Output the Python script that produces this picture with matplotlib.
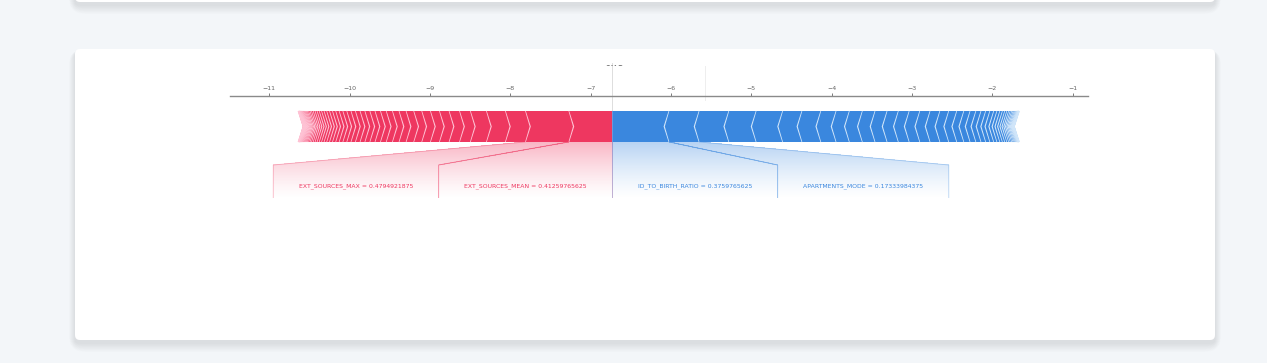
import numpy as np
import matplotlib
matplotlib.use('Agg')
import matplotlib.pyplot as plt
from matplotlib.patches import Polygon, FancyBboxPatch
from matplotlib.transforms import Bbox

# shap force plot values
base_value = -5.575

# features pushing the prediction higher (largest first)
pos_effects = [0.545, 0.540, 0.250, 0.236, 0.200, 0.135, 0.130, 0.120, 0.112, 0.108,
               0.100, 0.095, 0.088, 0.082, 0.077, 0.072, 0.068, 0.064, 0.062, 0.060,
               0.058, 0.055, 0.052, 0.049, 0.046, 0.043, 0.040, 0.037, 0.035, 0.033,
               0.031, 0.029, 0.027, 0.025, 0.023, 0.021, 0.019, 0.017, 0.015, 0.013,
               0.012, 0.011, 0.010, 0.009, 0.008, 0.007, 0.006, 0.005, 0.005, 0.004,
               0.004, 0.003, 0.003, 0.002, 0.002, 0.002, 0.001, 0.001]
pos_labels = ['EXT_SOURCES_MEAN = 0.41259765625', 'EXT_SOURCES_MAX = 0.4794921875']

# features pushing the prediction lower (largest first)
neg_effects = [0.710, 0.375, 0.370, 0.340, 0.330, 0.240, 0.235, 0.190, 0.165, 0.162,
               0.158, 0.150, 0.140, 0.135, 0.132, 0.128, 0.122, 0.110, 0.100, 0.088,
               0.078, 0.072, 0.064, 0.058, 0.052, 0.048, 0.040, 0.036, 0.032, 0.029,
               0.026, 0.023, 0.020, 0.018, 0.016, 0.014, 0.012, 0.010, 0.008, 0.006,
               0.005, 0.004, 0.003, 0.003, 0.002, 0.002, 0.001, 0.001]
neg_labels = ['ID_TO_BIRTH_RATIO = 0.3759765625', 'APARTMENTS_MODE = 0.17333984375']

x_ticks = [-11, -10, -9, -8, -7, -6, -5, -4, -3, -2, -1]

out_value = base_value + sum(pos_effects) - sum(neg_effects)

RED = '#EE3760'
RED_SEP = '#FFC3D5'
BLUE = '#3A87DE'
BLUE_SEP = '#D1E6FA'

W, H = 1267, 363
fig = plt.figure(figsize=(W / 100, H / 100), dpi=100)
fig.patch.set_facecolor('#f3f6f9')

# page background with cards
bg = fig.add_axes([0, 0, 1, 1])
bg.set_xlim(0, W)
bg.set_ylim(H, 0)
bg.axis('off')
for (cx, cy, cw, ch) in [(75, -200, 1140, 202), (75, 49, 1140, 291)]:
    for i in range(12, 0, -1):
        bg.add_patch(FancyBboxPatch((cx - i * 0.5, cy + 3 - i * 0.25), cw + i * 1.0, ch + i * 1.0,
                                    boxstyle='round,pad=0,rounding_size=%d' % (4 + i),
                                    facecolor='#1a2a3a', edgecolor='none', alpha=0.008))
    bg.add_patch(FancyBboxPatch((cx, cy), cw, ch, boxstyle='round,pad=0,rounding_size=5',
                                facecolor='white', edgecolor='none'))

# force plot axes
ax = fig.add_axes([230 / W, 1 - 198 / H, 858 / W, 102 / H])
ax.set_facecolor('none')
xmin = -11 - 39.3 / 80.34
xmax = -1 + 15.3 / 80.34
ax.set_xlim(xmin, xmax)
ax.set_ylim(198, 96)
ax.xaxis.set_ticks_position('top')
ax.set_xticks(x_ticks)
ax.set_xticklabels(['\u2212%d' % abs(t) for t in x_ticks])
ax.tick_params(axis='x', length=2.5, width=0.6, colors='#666666', labelsize=4.5, pad=1)
ax.set_yticks([])
for s in ['left', 'right', 'bottom']:
    ax.spines[s].set_visible(False)
ax.spines['top'].set_color('#8a8a8a')
ax.spines['top'].set_linewidth(1.0)

bar_top, bar_bot = 111, 142
bar_mid = (bar_top + bar_bot) / 2
indent = 5 / 80.34


def draw_bars(effects, kind):
    pre = out_value
    for i, v in enumerate(effects):
        if kind == 'pos':
            left, right = pre - v, pre
            pre = left
            ind = indent
            sep_x = left
            colors = (RED, RED_SEP)
        else:
            left, right = pre, pre + v
            pre = right
            ind = -indent
            sep_x = right
            colors = (BLUE, BLUE_SEP)
        if i == 0:
            if kind == 'pos':
                pts = [[left, bar_top], [right, bar_top], [right, bar_bot], [left, bar_bot],
                       [left + ind, bar_mid]]
            else:
                pts = [[right, bar_top], [left, bar_top], [left, bar_bot], [right, bar_bot],
                       [right + ind, bar_mid]]
        else:
            pts = [[left, bar_top], [right, bar_top], [right + ind * 0.9, bar_mid],
                   [right, bar_bot], [left, bar_bot], [left + ind * 0.9, bar_mid]]
        ax.add_patch(Polygon(pts, closed=True, facecolor=colors[0], linewidth=0))
        sep = [[sep_x, bar_top], [sep_x + ind, bar_mid], [sep_x, bar_bot]]
        ax.add_patch(Polygon(sep, closed=False, fill=False, edgecolor=colors[1], lw=1.0))


draw_bars(pos_effects, 'pos')
draw_bars(neg_effects, 'neg')

fig.canvas.draw()
renderer = fig.canvas.get_renderer()
px_per_unit = ax.transData.transform((1, 0))[0] - ax.transData.transform((0, 0))[0]
pad = 25.5 / px_per_unit
box_top, box_bot, text_y = 165, 198, 186


def edge_x(y, x_bar, x_box):
    # x of a label polygon side at height y
    if y >= box_top:
        return x_box
    return x_bar + (x_box - x_bar) * (y - bar_bot) / (box_top - bar_bot)


def fill_gradient(f_left, f_right, b_left, b_right, color):
    ys = np.linspace(bar_bot, box_bot, 57)
    for y0, y1 in zip(ys[:-1], ys[1:]):
        a = 0.36 * (1 - (y0 - bar_bot) / (box_bot - bar_bot)) ** 1.3
        pts = [[edge_x(y0, f_left, b_left), y0], [edge_x(y0, f_right, b_right), y0],
               [edge_x(y1, f_right, b_right), y1], [edge_x(y1, f_left, b_left), y1]]
        ax.add_patch(Polygon(pts, closed=True, facecolor=color, alpha=a, linewidth=0,
                             antialiased=False, zorder=0.5))


def draw_labels(effects, labels, kind):
    color = RED if kind == 'pos' else BLUE
    box_pre = out_value
    bar_pre = out_value
    for v, label in zip(effects, labels):
        t = ax.text(0, text_y, label, fontsize=4.4, color=color, ha='center', va='center')
        w = t.get_window_extent(renderer).width / px_per_unit
        if kind == 'pos':
            f_left, f_right = bar_pre - v, bar_pre
            bar_pre = f_left
            b_right = box_pre
            b_left = box_pre - w - 2 * pad
            box_pre = b_left
        else:
            f_left, f_right = bar_pre, bar_pre + v
            bar_pre = f_right
            b_left = box_pre
            b_right = box_pre + w + 2 * pad
            box_pre = b_right
        t.set_x((b_left + b_right) / 2)
        fill_gradient(f_left, f_right, b_left, b_right, color)
        ax.plot([b_left, b_left, f_left], [box_bot, box_top, bar_bot], color=color,
                alpha=0.35, lw=0.6)
        ax.plot([b_right, b_right, f_right], [box_bot, box_top, bar_bot], color=color,
                alpha=0.35, lw=0.6)


draw_labels(pos_effects, pos_labels, 'pos')
draw_labels(neg_effects, neg_labels, 'neg')

ax.set_xlim(xmin, xmax)
ax.set_ylim(198, 96)

# f(x) and base value markers above the axis (cut off at the top)
ax.plot([out_value, out_value], [63, bar_top], color='#dddddd', lw=0.7, clip_on=False, zorder=0.4)
ax.plot([base_value, base_value], [66, 100], color='#eeeeee', lw=0.7, clip_on=False, zorder=0.4)
t = ax.text(out_value + 0.02, 66.5, '%.2f' % out_value, fontsize=5, color='#777777',
            ha='center', va='bottom', fontweight='bold')
t.set_clip_on(True)
t.set_clip_box(Bbox([[0, 0], [W, H - 64.5]]))

fig.savefig('out.png', dpi=100, facecolor=fig.get_facecolor())
